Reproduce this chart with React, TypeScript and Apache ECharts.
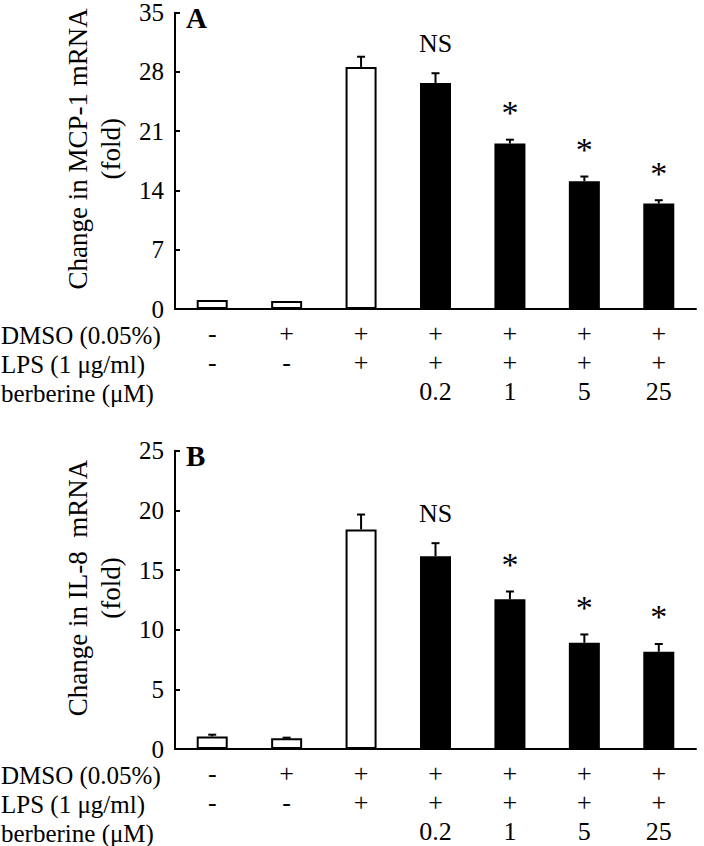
import React, { useEffect, useRef } from "react";
import * as echarts from "echarts";

// Treatment rows (x-axis)
const dmsoRow = ["-", "+", "+", "+", "+", "+", "+"];
const lpsRow = ["-", "-", "+", "+", "+", "+", "+"];
const berberineRow = ["", "", "", "0.2", "1", "5", "25"];
const rowTitles = ["DMSO (0.05%)", "LPS (1 μg/ml)", "berberine (μM)"];

// Panel A: MCP-1 mRNA (fold)
const mcpValues = [1.05, 0.95, 28.6, 26.7, 19.55, 15.1, 12.45];
const mcpErrors = [0, 0, 1.2, 1.15, 0.45, 0.55, 0.4];
const mcpTicks = { min: 0, max: 35, interval: 7 };

// Panel B: IL-8 mRNA (fold)
const il8Values = [1.05, 0.9, 18.4, 16.15, 12.55, 8.9, 8.15];
const il8Errors = [0.15, 0.05, 1.25, 1.1, 0.65, 0.7, 0.65];
const il8Ticks = { min: 0, max: 25, interval: 5 };

// Significance marks and bar fill (white = controls/LPS only, black = berberine)
const signif = ["", "", "", "NS", "*", "*", "*"];
const filled = [false, false, false, true, true, true, true];

const FONT = "'Liberation Serif', 'Times New Roman', serif";

export default function App() {
  const ref = useRef<HTMLDivElement>(null);

  useEffect(() => {
    document.body.style.margin = "0";
    const chart = echarts.init(ref.current!, null, { renderer: "svg" });

    const categories = dmsoRow.map((d, i) => `${d}\n${lpsRow[i]}\n${berberineRow[i]}`);
    const grids = [
      { left: 175, top: 12.7, width: 521, height: 296.3 },
      { left: 175, top: 450.7, width: 521, height: 298.6 },
    ];

    const xAxis = grids.map((_, gi) => ({
      type: "category",
      gridIndex: gi,
      data: categories,
      axisLine: { lineStyle: { color: "#000", width: 2 } },
      axisTick: { inside: true, length: 6, interval: 0, lineStyle: { color: "#000", width: 2 } },
      axisLabel: {
        interval: 0,
        margin: 10,
        color: "#000",
        fontFamily: FONT,
        fontSize: 26,
        lineHeight: 29,
      },
    }));

    const ticks = [mcpTicks, il8Ticks];
    const yAxis = ticks.map((t, gi) => ({
      type: "value",
      gridIndex: gi,
      min: t.min,
      max: t.max,
      interval: t.interval,
      splitLine: { show: false },
      axisLine: { show: true, lineStyle: { color: "#000", width: 2 } },
      axisTick: { show: true, inside: true, length: 5, lineStyle: { color: "#000", width: 2 } },
      axisLabel: { color: "#000", fontFamily: FONT, fontSize: 25, margin: 11 },
    }));

    const barSeries = (vals: number[], gi: number) => ({
      type: "bar",
      xAxisIndex: gi,
      yAxisIndex: gi,
      barWidth: 31,
      data: vals.map((v, i) => ({
        value: v,
        itemStyle: {
          color: filled[i] ? "#000" : "#fff",
          borderColor: "#000",
          borderWidth: 2,
        },
      })),
    });

    const errSeries = (vals: number[], errs: number[], gi: number) => ({
      type: "custom",
      xAxisIndex: gi,
      yAxisIndex: gi,
      data: vals.map((v, i) => [i, v, errs[i]]),
      renderItem: (params: any, api: any) => {
        const i = api.value(0);
        const v = api.value(1);
        const e = api.value(2);
        const base = api.coord([i, v]);
        const top = api.coord([i, v + e]);
        const children: any[] = [];
        if (e > 0) {
          children.push({
            type: "line",
            shape: { x1: base[0], y1: base[1], x2: top[0], y2: top[1] },
            style: { stroke: "#000", lineWidth: 2 },
          });
          children.push({
            type: "line",
            shape: { x1: top[0] - 4, y1: top[1], x2: top[0] + 4, y2: top[1] },
            style: { stroke: "#000", lineWidth: 2 },
          });
        }
        const mark = signif[params.dataIndex];
        if (mark) {
          const isStar = mark === "*";
          children.push({
            type: "text",
            x: top[0],
            y: top[1] - (isStar ? 10 : 17),
            style: {
              text: mark,
              fill: "#000",
              font: `${isStar ? 34 : 26}px ${FONT}`,
              textAlign: "center",
              textVerticalAlign: "bottom",
            },
          });
        }
        return { type: "group", children };
      },
    });

    const graphic: any[] = [];
    const baselines = [grids[0].top + grids[0].height, grids[1].top + grids[1].height];
    baselines.forEach((b) => {
      rowTitles.forEach((t, k) => {
        graphic.push({
          type: "text",
          x: 1,
          y: b + 26 + k * 29,
          style: {
            text: t,
            fill: "#000",
            font: `25px ${FONT}`,
            textVerticalAlign: "middle",
          },
        });
      });
    });
    const yTitles = [
      ["Change in MCP-1 mRNA", "(fold)"],
      ["Change in IL-8  mRNA", "(fold)"],
    ];
    yTitles.forEach((lines, gi) => {
      const cy = grids[gi].top + grids[gi].height / 2 - 12;
      lines.forEach((ln, k) => {
        graphic.push({
          type: "text",
          x: 78 + k * 33,
          y: cy,
          rotation: Math.PI / 2,
          style: {
            text: ln,
            fill: "#000",
            font: `27px ${FONT}`,
            textAlign: "center",
            textVerticalAlign: "middle",
          },
        });
      });
    });
    ["A", "B"].forEach((p, gi) => {
      graphic.push({
        type: "text",
        x: 186,
        y: grids[gi].top + 5,
        style: { text: p, fill: "#000", font: `bold 29px ${FONT}`, textVerticalAlign: "middle" },
      });
    });

    chart.setOption({
      animation: false,
      backgroundColor: "#fff",
      grid: grids,
      xAxis,
      yAxis,
      graphic,
      series: [
        barSeries(mcpValues, 0),
        errSeries(mcpValues, mcpErrors, 0),
        barSeries(il8Values, 1),
        errSeries(il8Values, il8Errors, 1),
      ],
    });

    return () => chart.dispose();
  }, []);

  return <div ref={ref} style={{ width: 704, height: 846 }} />;
}
